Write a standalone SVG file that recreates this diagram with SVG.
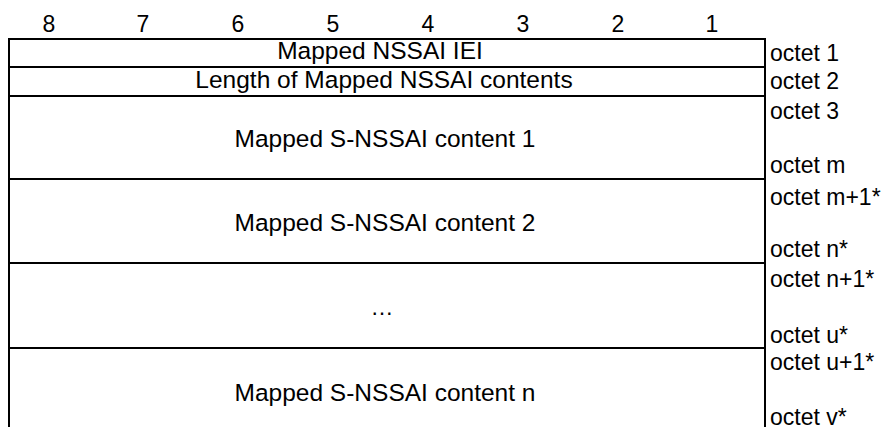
<svg xmlns="http://www.w3.org/2000/svg" width="885" height="427" viewBox="0 0 885 427">
<style>
text{font-family:"Liberation Sans",Arial,sans-serif;font-size:23px;fill:#000}
.c{text-anchor:middle;font-size:24.5px}
.h{text-anchor:middle}
.ln{stroke:#000;stroke-width:2;fill:none}
</style>
<rect width="885" height="427" fill="#fff"/>
<g id="header">
<text class="h" x="49" y="32">8</text>
<text class="h" x="143" y="32">7</text>
<text class="h" x="238" y="32">6</text>
<text class="h" x="333" y="32">5</text>
<text class="h" x="428" y="32">4</text>
<text class="h" x="523" y="32">3</text>
<text class="h" x="618" y="32">2</text>
<text class="h" x="712" y="32">1</text>
</g>
<g id="connectors">
<path class="ln" d="M9,427V39H765V427M9,67H765M9,96H765M9,179H765M9,263H765M9,348H765"/>
</g>
<g id="row1"><text class="c" x="380" y="59">Mapped NSSAI IEI</text><text x="770" y="61">octet 1</text></g>
<g id="row2"><text class="c" x="384" y="88">Length of Mapped NSSAI contents</text><text x="770" y="89">octet 2</text></g>
<g id="row3"><text class="c" x="385" y="147">Mapped S-NSSAI content 1</text><text x="770" y="119">octet 3</text><text x="770" y="173">octet m</text></g>
<g id="row4"><text class="c" x="385" y="231">Mapped S-NSSAI content 2</text><text x="770" y="205">octet m+1*</text><text x="770" y="257">octet n*</text></g>
<g id="row5"><text class="h" x="382" y="315">…</text><text x="770" y="287">octet n+1*</text><text x="770" y="343">octet u*</text></g>
<g id="row6"><text class="c" x="385" y="401">Mapped S-NSSAI content n</text><text x="770" y="370">octet u+1*</text><text x="770" y="425">octet v*</text></g>
</svg>
